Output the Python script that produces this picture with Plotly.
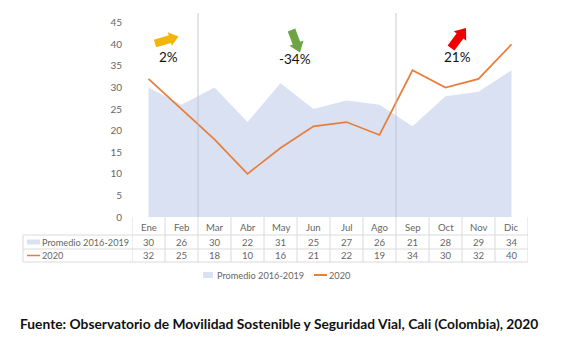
import math
import plotly.graph_objects as go

# ---------------- data ----------------
months = ["Ene", "Feb", "Mar", "Abr", "May", "Jun", "Jul", "Ago", "Sep", "Oct", "Nov", "Dic"]
promedio = [30, 26, 30, 22, 31, 25, 27, 26, 21, 28, 29, 34]
y2020 = [32, 25, 18, 10, 16, 21, 22, 19, 34, 30, 32, 40]
series_names = ["Promedio 2016-2019", "2020"]
changes = ["2%", "-34%", "21%"]
yticks = [0, 5, 10, 15, 20, 25, 30, 35, 40, 45]
source = "Fuente: Observatorio de Movilidad Sostenible y Seguridad Vial, Cali (Colombia), 2020"

# ---------------- geometry (pixels) ----------------
W, H = 579, 349
L_PX, R_PX, T_PX, B_PX = 132, 528, 13, 217
PW, PH = R_PX - L_PX, B_PX - T_PX
UNIT = 4.316  # px per y unit
YMAX = PH / UNIT

AREA = "#D9E1F2"
ORANGE = "#E97E3A"
GREY = "#666666"
GRID = "#DADADA"
FONT = "Lato"


def xp(px):
    return (px - L_PX) / PW


def yp(py):
    return (B_PX - py) / PH


x = list(range(len(months)))

fig = go.Figure()
fig.add_trace(go.Scatter(x=x, y=promedio, mode="lines", fill="tozeroy",
                         fillcolor=AREA, line=dict(width=0, color=AREA),
                         name=series_names[0], hoverinfo="skip"))
fig.add_trace(go.Scatter(x=x, y=y2020, mode="lines",
                         line=dict(width=1.75, color=ORANGE),
                         name=series_names[1]))

shapes = []
annotations = []

# vertical separators in plot
for xv in (1.5, 7.5):
    shapes.append(dict(type="line", xref="x", yref="paper", x0=xv, x1=xv, y0=0, y1=1,
                       line=dict(color="#B7BECB", width=0.8)))

# ---------------- data table ----------------
ROW_TOP = [217, 235, 249, 262]
LEFT_PX = 23
for py in ROW_TOP[1:]:
    shapes.append(dict(type="line", xref="paper", yref="paper", x0=xp(LEFT_PX), x1=1,
                       y0=yp(py), y1=yp(py), line=dict(color=GRID, width=1)))
for k in range(len(months) + 1):
    xv = k - 0.5
    shapes.append(dict(type="line", xref="x", yref="paper", x0=xv, x1=xv,
                       y0=yp(ROW_TOP[0]), y1=yp(ROW_TOP[-1]), line=dict(color=GRID, width=1)))
shapes.append(dict(type="line", xref="paper", yref="paper", x0=xp(LEFT_PX), x1=xp(LEFT_PX),
                   y0=yp(ROW_TOP[1]), y1=yp(ROW_TOP[-1]), line=dict(color=GRID, width=1)))

row_centers = [227, 242, 255.5]
tfont = dict(family=FONT, size=9.6, color=GREY)
lfont = dict(family=FONT, size=9.2, color=GREY)
for i, m in enumerate(months):
    annotations.append(dict(x=i, y=yp(row_centers[0]), xref="x", yref="paper", text=m,
                            showarrow=False, font=tfont, xanchor="center", yanchor="middle"))
    annotations.append(dict(x=i, y=yp(row_centers[1]), xref="x", yref="paper", text=str(promedio[i]),
                            showarrow=False, font=tfont, xanchor="center", yanchor="middle"))
    annotations.append(dict(x=i, y=yp(row_centers[2]), xref="x", yref="paper", text=str(y2020[i]),
                            showarrow=False, font=tfont, xanchor="center", yanchor="middle"))

shapes.append(dict(type="rect", xref="paper", yref="paper", x0=xp(27), x1=xp(40),
                   y0=yp(244.5), y1=yp(239.5), fillcolor=AREA, line=dict(width=0)))
shapes.append(dict(type="line", xref="paper", yref="paper", x0=xp(27), x1=xp(40),
                   y0=yp(255.5), y1=yp(255.5), line=dict(color=ORANGE, width=1.5)))
annotations.append(dict(x=xp(40), y=yp(row_centers[1]), xref="paper", yref="paper",
                        text=series_names[0], showarrow=False, font=lfont,
                        xanchor="left", yanchor="middle"))
annotations.append(dict(x=xp(40), y=yp(row_centers[2]), xref="paper", yref="paper",
                        text=series_names[1], showarrow=False, font=lfont,
                        xanchor="left", yanchor="middle"))

# ---------------- bottom legend ----------------
LEG_Y = 275
shapes.append(dict(type="rect", xref="paper", yref="paper", x0=xp(203), x1=xp(213),
                   y0=yp(LEG_Y + 3), y1=yp(LEG_Y - 3), fillcolor=AREA, line=dict(width=0)))
annotations.append(dict(x=xp(215), y=yp(LEG_Y), xref="paper", yref="paper", text=series_names[0],
                        showarrow=False, font=lfont, xanchor="left", yanchor="middle"))
shapes.append(dict(type="line", xref="paper", yref="paper", x0=xp(314), x1=xp(327),
                   y0=yp(LEG_Y), y1=yp(LEG_Y), line=dict(color=ORANGE, width=2)))
annotations.append(dict(x=xp(327), y=yp(LEG_Y), xref="paper", yref="paper", text=series_names[1],
                        showarrow=False, font=lfont, xanchor="left", yanchor="middle"))

# ---------------- arrows and percentages ----------------


def block_arrow(tail, tip, sw, hw, hl, color):
    tx, ty = tail
    px_, py_ = tip
    dx, dy = px_ - tx, py_ - ty
    ln = math.hypot(dx, dy)
    ux, uy = dx / ln, dy / ln
    nx, ny = -uy, ux
    bx, by = px_ - ux * hl, py_ - uy * hl
    pts = [
        (tx + nx * sw / 2, ty + ny * sw / 2),
        (bx + nx * sw / 2, by + ny * sw / 2),
        (bx + nx * hw / 2, by + ny * hw / 2),
        (px_, py_),
        (bx - nx * hw / 2, by - ny * hw / 2),
        (bx - nx * sw / 2, by - ny * sw / 2),
        (tx - nx * sw / 2, ty - ny * sw / 2),
    ]
    path = "M " + " L ".join(f"{xp(a):.5f},{yp(b):.5f}" for a, b in pts) + " Z"
    return dict(type="path", xref="paper", yref="paper", path=path,
                fillcolor=color, line=dict(width=0))


shapes.append(block_arrow((155, 43.5), (178.5, 36.5), 8, 14, 9, "#F2B60A"))
shapes.append(block_arrow((291.5, 30), (300, 52.5), 8, 15, 10, "#6DA544"))
shapes.append(block_arrow((451, 48), (466, 28), 8.5, 15.5, 10, "#F00000"))

pfont = dict(family=FONT, size=13.5, color="#111111")
for txt, (cx, cy) in zip(changes, [(168, 57), (295, 59), (457, 57)]):
    annotations.append(dict(x=xp(cx), y=yp(cy), xref="paper", yref="paper", text=txt,
                            showarrow=False, font=pfont, xanchor="center", yanchor="middle"))

# ---------------- source ----------------
annotations.append(dict(x=xp(18), y=yp(323), xref="paper", yref="paper",
                        text="<b>" + source + "</b>", showarrow=False,
                        font=dict(family=FONT, size=13.8, color="#111111"),
                        xanchor="left", yanchor="middle"))

fig.update_layout(
    width=W, height=H,
    margin=dict(l=L_PX, r=W - R_PX, t=T_PX, b=H - B_PX, pad=0),
    paper_bgcolor="white", plot_bgcolor="white",
    showlegend=False,
    shapes=shapes, annotations=annotations,
    xaxis=dict(range=[-0.5, len(months) - 0.5], showticklabels=False, showgrid=False,
               zeroline=False, showline=False, ticks="", fixedrange=True),
    yaxis=dict(range=[0, YMAX], tickvals=yticks, showgrid=False, zeroline=False,
               showline=False, ticks="", ticklabelstandoff=9,
               tickfont=dict(family=FONT, size=10, color=GREY)),
)

fig.write_html("out.html")
